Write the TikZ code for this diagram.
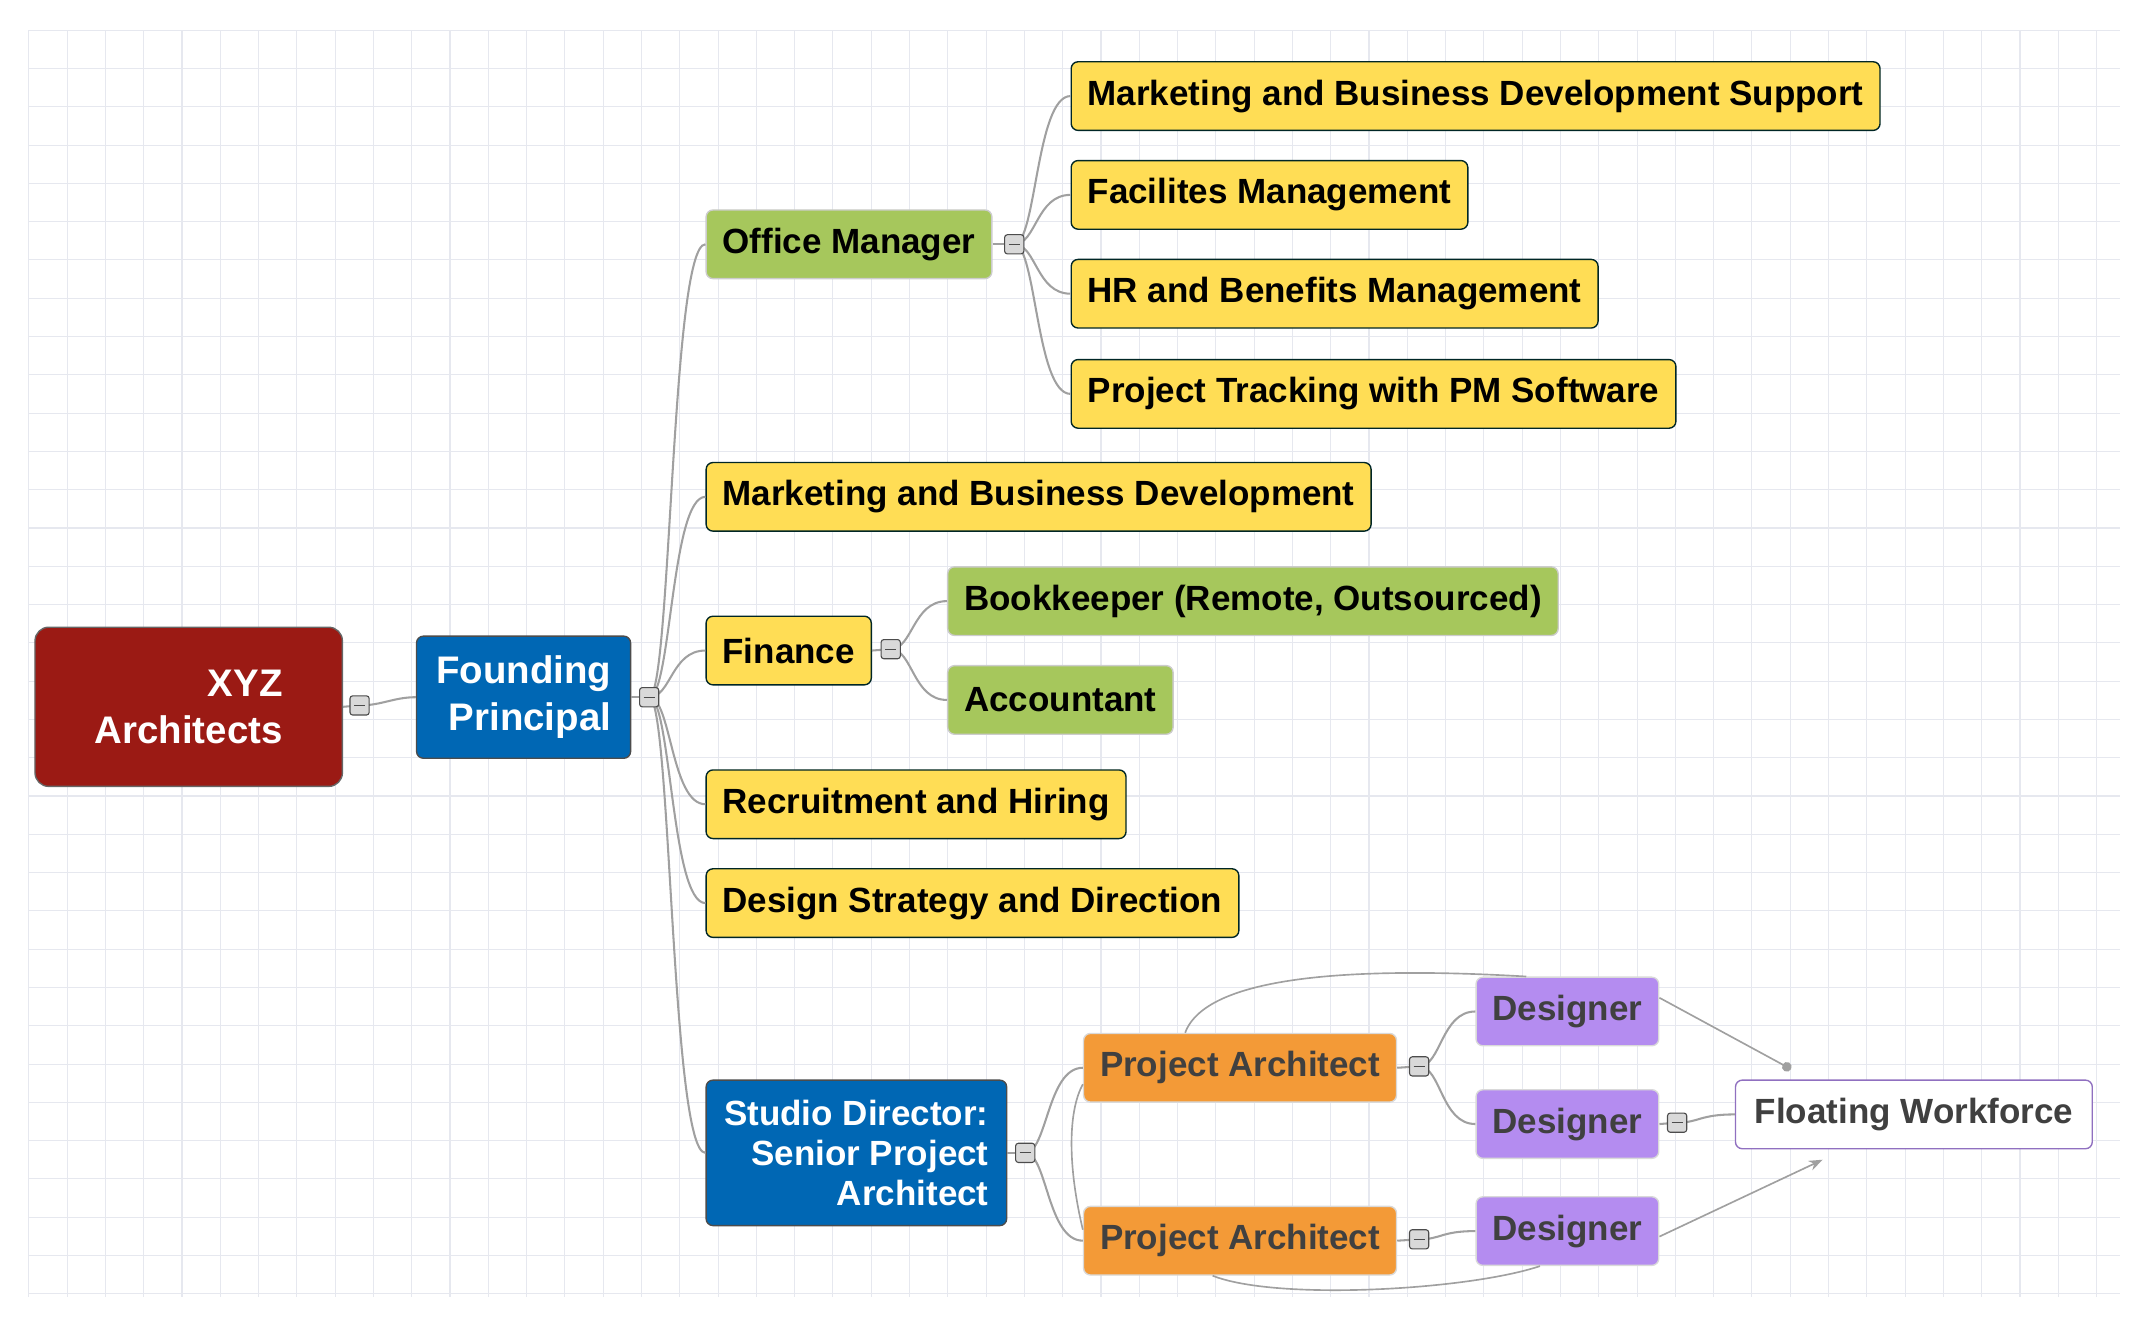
\documentclass[tikz,border=0pt]{standalone}
\usepackage{fontspec}
\setmainfont{Liberation Sans}
\usetikzlibrary{positioning, arrows.meta}
\definecolor{redbox}{HTML}{9B1A14}
\definecolor{bluebox}{HTML}{0067B4}
\definecolor{greenbox}{HTML}{A6C75C}
\definecolor{yellowbox}{HTML}{FFDD55}
\definecolor{orangebox}{HTML}{F39A37}
\definecolor{purplebox}{HTML}{B48CF0}
\definecolor{gridcol}{HTML}{E6E8EF}
\definecolor{linkcol}{HTML}{A0A0A0}
\begin{document}
\begin{tikzpicture}[x=1pt, y=-1pt,
    font=\fontsize{25.5}{29}\selectfont\bfseries,
    box/.style={draw, rounded corners=5pt, anchor=west, minimum height=50pt, inner xsep=12pt, line width=1pt},
    topic/.style={box, fill=yellowbox, draw=black!70!teal},
    sub/.style={box, fill=greenbox, draw=black!20},
    lead/.style={box, fill=bluebox, draw=black!70, text=white, align=right},
    arch/.style={box, fill=orangebox, draw=black!15, text=black!75},
    dsgn/.style={box, fill=purplebox, draw=black!15, text=black!75},
    fold/.style={draw=black!70, fill=black!15, rounded corners=2pt, minimum size=14pt, inner sep=0pt, line width=0.8pt,
      path picture={\draw[line width=0.8pt] ([xshift=-4pt]path picture bounding box.center) -- ([xshift=4pt]path picture bounding box.center);}},
    link/.style={draw=linkcol, line width=1.5pt},
    rel/.style={draw=linkcol, line width=1.2pt}
  ]
  \useasboundingbox (0,0) rectangle (1560,971);
  % grid
  \foreach \i in {0,...,54} \draw[gridcol, line width=0.8pt] ({21+27.9*\i},22) -- ({21+27.9*\i},945);
  \foreach \j in {0,...,33} \draw[gridcol, line width=0.8pt] (21,{22+27.9*\j}) -- (1545,{22+27.9*\j});

  \node (xyz) [box, fill=redbox, draw=black!60, text=white, align=right, minimum width=224pt, minimum height=116pt, rounded corners=10pt, inner xsep=36pt, font=\fontsize{28}{34}\selectfont\bfseries] at (25,515) {XYZ\\Architects};
  \node (fp) [lead, minimum width=156pt, minimum height=89pt, inner xsep=8pt, font=\fontsize{28}{34}\selectfont\bfseries] at (303,508) {Founding\\Principal};
  \node (om) [sub] at (514,178) {Office Manager};
  \node (mbs) [topic] at (780,70) {Marketing and Business Development Support};
  \node (fm) [topic] at (780,142) {Facilites Management};
  \node (hr) [topic] at (780,214) {HR and Benefits Management};
  \node (pt) [topic] at (780,287) {Project Tracking with PM Software};
  \node (mbd) [topic] at (514,362) {Marketing and Business Development};
  \node (fin) [topic] at (514,474) {Finance};
  \node (bk) [sub] at (690,438) {Bookkeeper (Remote, Outsourced)};
  \node (acc) [sub] at (690,510) {Accountant};
  \node (rec) [topic] at (514,586) {Recruitment and Hiring};
  \node (dsd) [topic] at (514,658) {Design Strategy and Direction};
  \node (sd) [lead, minimum width=219pt, minimum height=106pt, inner xsep=8pt] at (514,840) {Studio Director:\\Senior Project\\Architect};
  \node (pa1) [arch] at (789,778) {Project Architect};
  \node (pa2) [arch] at (789,904) {Project Architect};
  \node (d1) [dsgn] at (1075,737) {Designer};
  \node (d2) [dsgn] at (1075,819) {Designer};
  \node (d3) [dsgn] at (1075,897) {Designer};
  \node (fw) [box, fill=white, draw=purplebox!80!black, text=black!75, minimum width=260pt] at (1264,812) {Floating Workforce};

  % fold markers (positions)
  \coordinate (f1) at (262,514);
  \coordinate (f2) at (473,508);
  \coordinate (f3) at (739,178);
  \coordinate (f4) at (649,473);
  \coordinate (f5) at (747,840);
  \coordinate (f6) at (1034,777);
  \coordinate (f7) at (1034,903);
  \coordinate (f8) at (1222,818);

  % branches
  \draw[link] (xyz.east) -- (f1) .. controls ([xshift=16pt]f1) and ([xshift=-16pt]fp.west) .. (fp.west);
  \draw[link] (fp.east) -- (f2);
  \foreach \f/\c in {f2/om, f2/mbd, f2/fin, f2/rec, f2/dsd, f2/sd, f3/mbs, f3/fm, f3/hr, f3/pt,
                     f4/bk, f4/acc, f5/pa1, f5/pa2, f6/d1, f6/d2, f7/d3, f8/fw}
    \draw[link] (\f) .. controls ([xshift=16pt]\f) and ([xshift=16pt]\f |- \c.west) .. (\c.west);
  \draw[link] (om.east) -- (f3);
  \draw[link] (fin.east) -- (f4);
  \draw[link] (sd.east) -- (f5);
  \draw[link] (pa1.east) -- (f6);
  \draw[link] (pa2.east) -- (f7);
  \draw[link] (d2.east) -- (f8);
  \foreach \f in {f1,f2,f3,f4,f5,f6,f7,f8} \node[fold] at (\f) {};

  % relations
  \coordinate (dot) at (1305,779);
  \coordinate (tip) at (1328,845);
  \draw[rel] ([xshift=-40pt]pa1.north) .. controls (880,708) and (1000,705) .. ([xshift=-30pt]d1.north);
  \draw[rel] ([yshift=-12pt]pa1.west) .. controls (778,810) and (778,850) .. ([yshift=8pt]pa2.west);
  \draw[rel] ([xshift=-20pt]pa2.south) .. controls (930,948) and (1070,940) .. ([xshift=-20pt]d3.south);
  \draw[rel, -{Circle[length=7pt]}] ([yshift=10pt]d1.east) -- (dot);
  \draw[rel, -{Stealth[length=10pt]}] ([yshift=-4pt]d3.east) -- (tip);
\end{tikzpicture}
\end{document}
